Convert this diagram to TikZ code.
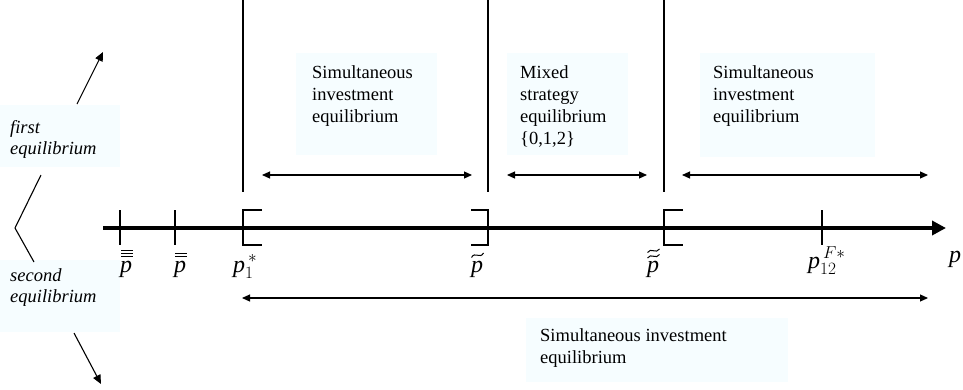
\documentclass[tikz,border=0pt]{standalone}
\usepackage{fontspec}
\setmainfont{Liberation Serif}
\usetikzlibrary{arrows.meta,calc}
\definecolor{boxfill}{RGB}{246,253,255}
\tikzset{
  x=1pt,y=-1pt,
  bgbox/.style={fill=boxfill,draw=none,inner sep=0pt,anchor=north west},
  txt/.style={inner sep=0pt,anchor=north west,align=left,font=\fontsize{18.5}{22}\selectfont},
  itxt/.style={txt,font=\fontsize{18.5}{21}\selectfont\itshape},
  lbl/.style={inner sep=0pt,anchor=base,font=\fontsize{24}{26}\selectfont\itshape},
  lblw/.style={lbl,anchor=base west},
  accent/.style={line width=1pt},
  barline/.style={line width=0.8pt},
  thin/.style={line width=1.1pt},
  dbl/.style={line width=1.1pt,{Triangle[length=8pt,width=7pt]}-{Triangle[length=8pt,width=7pt]}},
  sgl/.style={line width=1.1pt,-{Triangle[length=9pt,width=8pt]}},
  axis/.style={line width=4pt,-{Triangle[length=14pt,width=14pt]}}
}
\begin{document}
\begin{tikzpicture}
\useasboundingbox (0,0) rectangle (963,389);
% background boxes
\node[bgbox,minimum width=120pt,minimum height=62pt] (bfirst) at (0,105) {};
\node[bgbox,minimum width=120pt,minimum height=72pt] (bsecond) at (0,260) {};
\node[bgbox,minimum width=141pt,minimum height=102pt] (b1) at (296,53) {};
\node[bgbox,minimum width=121pt,minimum height=102pt] (b2) at (507,53) {};
\node[bgbox,minimum width=175pt,minimum height=104pt] (b3) at (700,53) {};
\node[bgbox,minimum width=262pt,minimum height=64pt] (b4) at (526,318) {};
% texts
\node[itxt] (tfirst) at (10,120) {first\\equilibrium};
\node[itxt] (tsecond) at (10,268) {second\\equilibrium};
\node[txt] (t1) at (312,65) {Simultaneous\\investment\\equilibrium};
\node[txt] (t2) at (520,65) {Mixed\\strategy\\equilibrium\\\{0,1,2\}};
\node[txt] (t3) at (713,65) {Simultaneous\\investment\\equilibrium};
\node[txt] (t4) at (540,328) {Simultaneous investment\\equilibrium};
% left arrows and angle
\coordinate (fa0) at (77,104); \coordinate (fa1) at (103,52);
\coordinate (sa0) at (74,333); \coordinate (sa1) at (101,384);
\draw[sgl] (fa0) -- (fa1);
\draw[sgl] (sa0) -- (sa1);
\coordinate (ang0) at (41,175); \coordinate (ang1) at (15,228); \coordinate (ang2) at (34,262);
\draw[thin] (ang0) -- (ang1) -- (ang2);
% axis
\coordinate (ax0) at (103,228); \coordinate (ax1) at (946,228);
\draw[axis] (ax0) -- (ax1);
% ticks
\coordinate (k1a) at (120,210); \coordinate (k1b) at (120,245);
\coordinate (k2a) at (175,210); \coordinate (k2b) at (175,245);
\coordinate (k3a) at (822,210); \coordinate (k3b) at (822,245);
\draw[thin] (k1a) -- (k1b);
\draw[thin] (k2a) -- (k2b);
\draw[thin] (k3a) -- (k3b);
% vertical lines
\coordinate (v1t) at (243,0); \coordinate (v1b) at (243,192);
\coordinate (v2t) at (488,0); \coordinate (v2b) at (488,192);
\coordinate (v3t) at (664,0); \coordinate (v3b) at (664,192);
\draw[thin] (v1t) -- (v1b);
\draw[thin] (v2t) -- (v2b);
\draw[thin] (v3t) -- (v3b);
% brackets
\draw[thin] (262,210) -- (243,210) -- (243,245) -- (262,245);
\draw[thin] (471,210) -- (488,210) -- (488,245) -- (471,245);
\draw[thin] (683,210) -- (664,210) -- (664,245) -- (683,245);
% double arrows
\coordinate (d1a) at (262,175); \coordinate (d1b) at (472,175);
\coordinate (d2a) at (507,175); \coordinate (d2b) at (647,175);
\coordinate (d3a) at (682,175); \coordinate (d3b) at (928,175);
\coordinate (d4a) at (242,298); \coordinate (d4b) at (928,298);
\draw[dbl] (d1a) -- (d1b);
\draw[dbl] (d2a) -- (d2b);
\draw[dbl] (d3a) -- (d3b);
\draw[dbl] (d4a) -- (d4b);
% labels
\node[lbl] (l1) at (126,272) {p};
\node[lbl] (l2) at (180,272) {p};
\node[lblw] (l3) at (233,272) {p$_{1}^{\,*}$};
\node[lbl] (l4) at (477,272) {p};
\node[lbl] (l5) at (653,272) {p};
\node[lblw] (l6) at (808,268) {p$_{12}^{\,F*}$};
\node[lbl] (l7) at (955,262) {p};
% accents
\foreach \d in {-4.5,-7.5,-10.5}
  \draw[barline] ($(l1.north)+(-5,\d)$) -- ($(l1.north)+(6.5,\d)$);
\foreach \d in {-4.5,-7.5}
  \draw[barline] ($(l2.north)+(-5,\d)$) -- ($(l2.north)+(6.5,\d)$);
\draw[accent] ($(l4.north)+(-5.5,-3)$) .. controls ($(l4.north)+(-2,-9.5)$) and ($(l4.north)+(3,-1)$) .. ($(l4.north)+(6.5,-7.5)$);
\draw[accent] ($(l5.north)+(-5.5,-2.5)$) .. controls ($(l5.north)+(-2,-8)$) and ($(l5.north)+(3,-0.5)$) .. ($(l5.north)+(6.5,-6)$);
\draw[accent] ($(l5.north)+(-5.5,-8)$) .. controls ($(l5.north)+(-2,-13.5)$) and ($(l5.north)+(3,-6)$) .. ($(l5.north)+(6.5,-11.5)$);
\end{tikzpicture}
\end{document}
